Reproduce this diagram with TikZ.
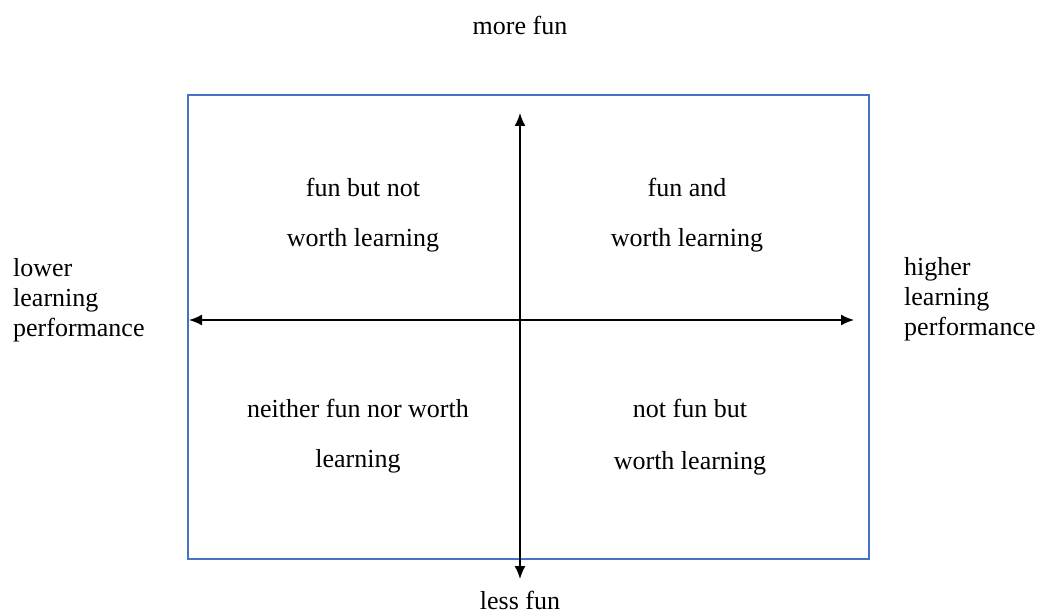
\documentclass[tikz,border=0pt]{standalone}
\usepackage{fontspec}
\setmainfont{Liberation Serif}
\newfontfamily\quadfont{Liberation Serif}
\usetikzlibrary{arrows.meta}
\usetikzlibrary{positioning}
\definecolor{boxblue}{RGB}{68,114,196}

\begin{document}
\begin{tikzpicture}[x=1pt, y=-1pt,
    lbl/.style={font=\quadfont\fontsize{26}{30}\selectfont, inner sep=0pt},
    side/.style={lbl, align=left, anchor=west},
    axis/.style={draw=black, line width=1.6pt, -{Latex[length=13pt,width=11pt]}}]
    \useasboundingbox (0,0) rectangle (1046,615);

    % frame
    \draw[boxblue, line width=1.8pt] (188,95) rectangle (869,559);

    % axis ends
    \coordinate (top) at (520,113);
    \coordinate (bottom) at (520,579);
    \coordinate (left) at (189,320);
    \coordinate (right) at (854,320);
    \coordinate (origin) at (520,320);

    \draw[axis] (origin) -- (top);
    \draw[axis] (origin) -- (bottom);
    \draw[axis] (origin) -- (left);
    \draw[axis] (origin) -- (right);

    % axis labels
    \node[lbl] (more) at (520,25) {more fun};
    \node[lbl] (less) at (520,600) {less fun};
    \node[side] (lower) at (13,300) {lower\\learning\\performance};
    \node[side] (higher) at (904,299) {higher\\learning\\performance};

    % quadrants
    \node[lbl] (q1a) at (363,187) {fun but not};
    \node[lbl] (q1b) at (363,240) {worth learning};
    \node[lbl] (q2a) at (687,187) {fun and};
    \node[lbl] (q2b) at (687,240) {worth learning};
    \node[lbl] (q3a) at (358,408) {neither fun nor worth};
    \node[lbl] (q3b) at (358,461) {learning};
    \node[lbl] (q4a) at (690,408) {not fun but};
    \node[lbl] (q4b) at (690,463) {worth learning};
\end{tikzpicture}
\end{document}
